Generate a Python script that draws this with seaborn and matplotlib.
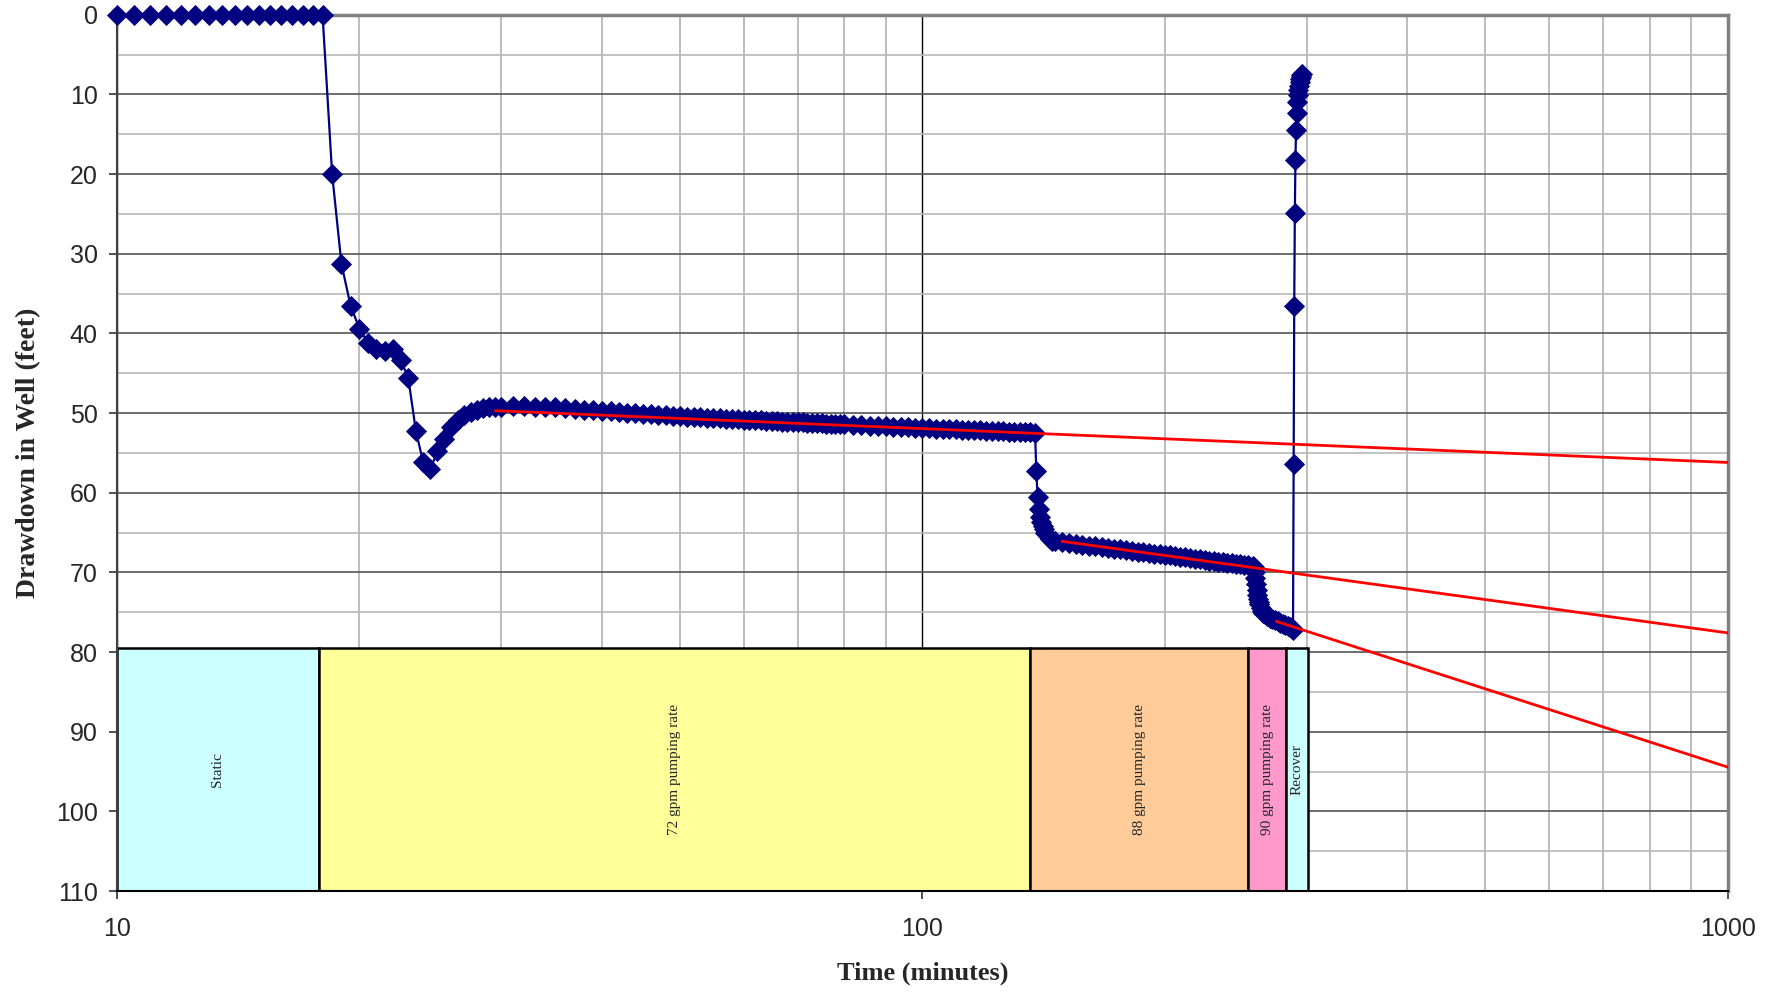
import numpy as np
import matplotlib
matplotlib.use("Agg")
import matplotlib.pyplot as plt
import seaborn as sns

# ------------------- Data -------------------
# Static period (minutes, drawdown in feet)
t_static = [10, 10.5, 11, 11.5, 12, 12.5, 13, 13.5, 14, 14.5, 15, 15.5, 16, 16.5, 17, 17.5, 18]
dd_static = [0, 0, 0, 0, 0, 0, 0, 0, 0, 0, 0, 0, 0, 0, 0, 0, 0]

# 72 gpm pumping
t_72 = [18.5, 19, 19.5, 20, 20.5, 21, 21.5, 22, 22.5, 23, 23.5, 24, 24.5, 25, 25.5, 26,
        26.5, 27, 27.5, 28, 28.5, 29, 29.5, 30, 31, 32, 33, 34, 35, 36, 37, 38, 39, 40,
        41, 42, 43, 44, 45, 46, 47, 48, 49, 50, 51, 52, 53, 54, 55, 56, 57, 58, 59, 60,
        61, 62, 63, 64, 65, 66, 67, 68, 69, 70, 71, 72, 73, 74, 75, 76, 77, 78, 79, 80,
        82, 84, 86, 88, 90, 92, 94, 96, 98, 100, 102, 104, 106, 108, 110, 112, 114, 116,
        118, 120, 122, 124, 126, 128, 130, 132, 134, 136, 138]
dd_72 = [20.0, 31.3, 36.5, 39.4, 41.2, 42.0, 42.2, 41.9, 43.3, 45.6, 52.2, 56.2, 57.0, 54.8,
         53.2, 51.8, 50.9, 50.3, 49.9, 49.6, 49.4, 49.3, 49.25, 49.2, 49.15, 49.15, 49.2,
         49.25, 49.3, 49.4, 49.5, 49.6, 49.65, 49.75, 49.8, 49.9, 49.95, 50.0, 50.1, 50.15,
         50.2, 50.3, 50.35, 50.40, 50.45, 50.50, 50.54, 50.58, 50.62, 50.66, 50.70, 50.74,
         50.78, 50.82, 50.86, 50.89, 50.93, 50.96, 51.00, 51.03, 51.06, 51.09, 51.12,
         51.15, 51.18, 51.21, 51.24, 51.27, 51.30, 51.32, 51.35, 51.38, 51.40, 51.43,
         51.48, 51.53, 51.58, 51.63, 51.67, 51.71, 51.75, 51.79, 51.83, 51.87, 51.91,
         51.94, 51.98, 52.01, 52.05, 52.08, 52.11, 52.14, 52.17, 52.20, 52.23, 52.26,
         52.29, 52.32, 52.34, 52.37, 52.40, 52.43, 52.46]

# 88 gpm pumping
t_88 = [138.5, 139, 139.5, 140, 140.5, 141, 141.5, 142, 143, 144, 145, 146, 149, 152, 155,
        158, 161, 164, 167, 170, 173, 176, 179, 182, 185, 188, 191, 194, 197, 200, 203, 206,
        209, 212, 215, 218, 221, 224, 227, 230, 233, 236, 239, 242, 245, 248, 251, 254, 257]
dd_88 = [57.3, 60.5, 62.1, 63.0, 63.7, 64.2, 64.6, 65.0, 65.4, 65.75, 66.0, 66.10, 66.22,
         66.33, 66.43, 66.53, 66.63, 66.73, 66.83, 66.93, 67.02, 67.11, 67.20, 67.29,
         67.38, 67.46, 67.55, 67.63, 67.71, 67.80, 67.88, 67.96, 68.04, 68.12, 68.20,
         68.28, 68.36, 68.43, 68.51, 68.58, 68.65, 68.72, 68.79, 68.86, 68.93, 69.00,
         69.07, 69.13, 69.20]

# 90 gpm pumping
t_90 = [258, 258.5, 259, 259.5, 260, 260.5, 261, 261.5, 262, 263, 264, 265, 266, 268, 270,
        272, 274, 276, 278, 280, 282, 284, 286, 288, 288.5]
dd_90 = [69.3, 69.9, 70.7, 71.5, 72.2, 72.8, 73.3, 73.7, 74.0, 74.5, 74.8, 75.05, 75.25,
         75.5, 75.7, 75.85, 76.0, 76.15, 76.3, 76.45, 76.55, 76.7, 76.85, 77.0, 77.2]

# Recovery
t_rec = [289, 289.5, 290, 290.5, 291, 291.5, 292, 292.5, 293, 293.5, 294, 294.5, 295, 295.5, 296]
dd_rec = [56.4, 36.5, 24.9, 18.2, 14.5, 12.3, 11.0, 10.1, 9.4, 8.9, 8.5, 8.1, 7.8, 7.6, 7.4]

# Red trend lines (start / end)
trend_t = [[29.5, 1000], [149, 1000], [275, 1000]]
trend_dd = [[49.7, 56.2], [66.1, 77.6], [76.15, 94.45]]

# Phase boxes
phase_names = ["Static", "72 gpm pumping rate", "88 gpm pumping rate",
               "90 gpm pumping rate", "Recover"]
phase_edges = [10, 17.8, 136, 254, 282.5, 301]
phase_colors = ["#CCFFFF", "#FFFF99", "#FFCC99", "#FF99CC", "#CCFFFF"]
box_top, box_bottom = 79.5, 110

x_ticks = [10, 100, 1000]
x_ticklabels = ["10", "100", "1000"]
y_ticks = [0, 10, 20, 30, 40, 50, 60, 70, 80, 90, 100, 110]

# ------------------- Figure -------------------
sns.set_style("white")
plt.rcParams["font.family"] = ["Liberation Sans", "DejaVu Sans"]
serif = ["Liberation Serif", "DejaVu Serif"]

fig = plt.figure(figsize=(17.8, 9.92), dpi=100)
ax = fig.add_axes([0.0657, 0.1018, 0.905, 0.8833])
ax.set_xscale("log")
ax.set_xlim(10, 1000)
ax.set_ylim(110, 0)
ax.set_axisbelow(True)

# grid
ax.set_yticks(y_ticks)
ax.set_yticks(np.arange(5, 110, 10), minor=True)
ax.set_xticks(x_ticks)
ax.set_xticklabels(x_ticklabels)
ax.grid(which="major", axis="x", color="black", linewidth=1.0)
ax.grid(which="minor", axis="x", color="#b0b0b0", linewidth=1.2)
ax.grid(which="major", axis="y", color="#555555", linewidth=1.2)
ax.grid(which="minor", axis="y", color="#b8b8b8", linewidth=1.2)

# measured drawdown
t_all = t_static + t_72 + t_88 + t_90 + t_rec
dd_all = dd_static + dd_72 + dd_88 + dd_90 + dd_rec
sns.lineplot(x=t_all, y=dd_all, ax=ax, color="#000080", linewidth=1.6,
             marker="D", markersize=10.5, markeredgecolor="#000080",
             markeredgewidth=0.6, estimator=None, sort=False, zorder=3,
             clip_on=False)

# trend lines
for tt, dd in zip(trend_t, trend_dd):
    ax.plot(tt, dd, color="#FF0000", linewidth=2.0, zorder=4)

# phase boxes
lefts = phase_edges[:-1]
widths = [b - a for a, b in zip(phase_edges[:-1], phase_edges[1:])]
ax.bar(lefts, [box_bottom - box_top] * len(lefts), width=widths, bottom=box_top,
       align="edge", color=phase_colors, edgecolor="black", linewidth=1.8, zorder=2)
for name, a, b in zip(phase_names, phase_edges[:-1], phase_edges[1:]):
    ax.text(np.sqrt(a * b), (box_top + box_bottom) / 2, name, rotation=90,
            ha="center", va="center", fontsize=11, family=serif, zorder=5)

# spines / ticks
for side in ["top", "right"]:
    ax.spines[side].set_color("#808080")
    ax.spines[side].set_linewidth(2.5)
ax.spines["left"].set_color("#404040")
ax.spines["left"].set_linewidth(1.5)
ax.spines["bottom"].set_color("black")
ax.spines["bottom"].set_linewidth(1.5)

ax.tick_params(axis="y", which="major", left=True, length=6, width=1.2, pad=8,
               labelsize=18, color="#333333")
ax.tick_params(axis="x", which="major", bottom=True, length=6, width=1.2, pad=13,
               labelsize=18, color="#333333")
ax.tick_params(which="minor", length=0)

ax.set_xlabel("Time (minutes)", fontsize=19, fontweight="bold", family=serif)
ax.set_ylabel("Drawdown in Well (feet)", fontsize=20, fontweight="bold", family=serif)
ax.xaxis.set_label_coords(0.5, -0.081)
ax.yaxis.set_label_coords(-0.047, 0.50)

fig.savefig("out.png", dpi=100)
